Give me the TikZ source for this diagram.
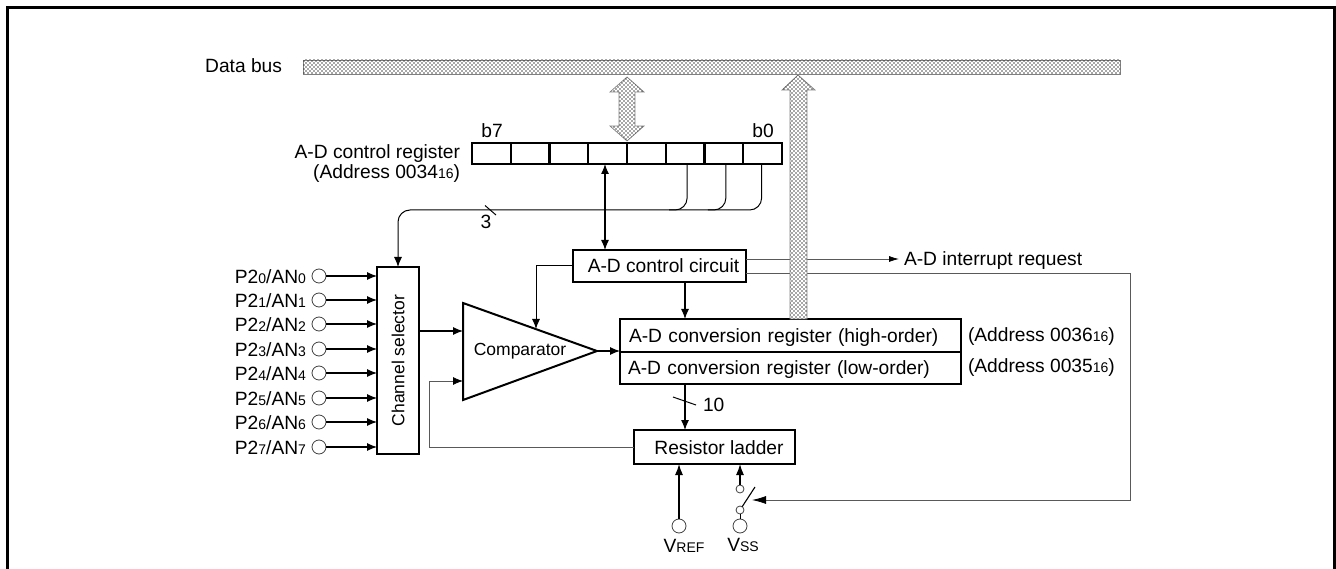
\documentclass[tikz,border=0pt]{standalone}
\usepackage{fontspec}
\setmainfont{Liberation Sans}
\usetikzlibrary{arrows.meta,patterns,calc}
\newcommand{\fs}{\fontsize{19.2}{22}\selectfont}
\newcommand{\sm}[1]{{\fontsize{14}{14}\selectfont #1}}
\pgfdeclarepatternformonly{busdots}{\pgfqpoint{-1pt}{-1pt}}{\pgfqpoint{3pt}{3pt}}{\pgfqpoint{4pt}{4pt}}{%
  \pgfpathrectangle{\pgfqpoint{-.7pt}{-.7pt}}{\pgfqpoint{1.4pt}{1.4pt}}%
  \pgfpathrectangle{\pgfqpoint{1.3pt}{1.3pt}}{\pgfqpoint{1.4pt}{1.4pt}}%
  \pgfusepath{fill}}
\tikzset{
  x=1pt,y=-1pt,
  every node/.style={font=\fs,inner sep=0pt,outer sep=0pt},
  box/.style={draw=black,line width=2.3pt,fill=white,align=center},
  wire/.style={line width=1.1pt,-{Latex[length=10pt,width=8pt]}},
  dwire/.style={line width=1.2pt,{Latex[length=10pt,width=8pt]}-{Latex[length=10pt,width=8pt]}},
  thin wire/.style={line width=.8pt,draw=black!65},
  pin/.style={circle,draw=black!75,line width=.8pt,fill=white,minimum size=14pt},
  smallpin/.style={circle,draw=black!75,line width=.8pt,fill=white,minimum size=8pt},
  shaded bus/.style={draw=black!50,line width=.7pt,fill=white,postaction={pattern=busdots,pattern color=black!80}},
}
\begin{document}
\begin{tikzpicture}
\useasboundingbox (0,0) rectangle (1336,569);
\fill[white] (0,0) rectangle (1336,569);
\draw[line width=3pt] (7.5,569) -- (7.5,7.5) -- (1334.5,7.5) -- (1334.5,569);

% data bus
\node[shaded bus,minimum width=817pt,minimum height=14pt] (bus) at (711.5,67) {};
\node[anchor=east] (buslabel) at (282,66) {Data bus};

% helper x positions
\coordinate (xa) at (605,0);
\coordinate (xb) at (627,0);
\coordinate (xc) at (798,0);
\coordinate (xd) at (398,0);
\coordinate (xf) at (429,0);
\coordinate (xg) at (1130,0);
\coordinate (xh) at (685,0);
\coordinate (xi) at (679,0);
\coordinate (xj) at (740,0);
\coordinate (ytrunk) at (0,210);

% register
\foreach \i/\n in {0/7,1/6,2/5,3/4,4/3,5/2,6/1,7/0}{
  \node[box,minimum width=38.75pt,minimum height=21pt] (bit\n) at ({472+38.75*(\i+.5)},153.5) {};
}
\node[anchor=south] (bseven) at (492,138) {b7};
\node[anchor=south] (bzero) at (763,138) {b0};
\node[anchor=east,align=right] (ctlreg) at (460,163.5) {A-D control register\\[-2.5pt](Address 0034\sm{16})};

% boxes
\node[box,minimum width=173pt,minimum height=32pt] (ctl) at (659.5,266) {\raisebox{-7pt}[0pt][0pt]{\hspace*{8pt}A-D control circuit}};
\node[box,minimum width=42pt,minimum height=187pt] (sel) at (398,360.5) {\rotatebox{90}{\fontsize{17.5}{20}\selectfont Channel selector}};
\node[box,minimum width=341pt,minimum height=33pt,text width=323pt,align=left] (high) at (790.5,335.5) {\raisebox{-6.5pt}[0pt][0pt]{A-D conversion register (high-order)}};
\node[box,minimum width=341pt,minimum height=32pt,text width=325pt,align=left] (low) at (790.5,368) {\raisebox{-6pt}[0pt][0pt]{A-D conversion register (low-order)}};
\node[box,minimum width=161pt,minimum height=34pt] (lad) at (714.5,447) {\raisebox{-7pt}[0pt][0pt]{\hspace*{9pt}Resistor ladder}};
\node[anchor=west] (addrh) at (968,337) {(Address 0036\sm{16})};
\node[anchor=west] (addrl) at (968,368) {(Address 0035\sm{16})};

% comparator
\draw[line width=2pt,line join=miter,fill=white] (463,303) coordinate (cmpa) -- (597,351) coordinate (cmpt) -- (463,400) coordinate (cmpb) -- cycle;
\node[font=\fontsize{17.5}{20}\selectfont] (cmp) at (520,351) {Comparator};
\coordinate (cmpi1) at (463,331);
\coordinate (cmpi2) at (463,381);
\coordinate (cmpc) at (536,329);

% pins
\foreach \k/\y in {0/276,1/300,2/324,3/349,4/373,5/398,6/422,7/447}{
  \node[pin] (p\k) at (319,\y) {};
  \node[anchor=east] (pl\k) at (306,\y+1) {P2\sm{\k}/AN\sm{\k}};
  \draw[wire] (p\k) -- (p\k -| sel.west);
}

% register links
\draw[dwire] (xa |- bit4.south) -- (xa |- ctl.north);
\draw[line width=1pt,rounded corners=12pt,-{Latex[length=10pt,width=8pt]}]
  ([xshift=-1pt]bit0.south) |- (xd |- ytrunk) -- (xd |- sel.north);
\draw[line width=1pt,rounded corners=12pt] ([xshift=2pt]bit1.south) |- ([xshift=-16pt]bit1.south |- ytrunk);
\draw[line width=1pt,rounded corners=12pt] ([xshift=2pt]bit2.south) |- ([xshift=-16pt]bit2.south |- ytrunk);
\coordinate (s3a) at (485,205.5);
\coordinate (s3b) at (496,215);
\draw[line width=1pt] (s3a) -- (s3b);
\node (three) at (486,222) {3};

% signal paths
\draw[wire] (sel.east |- cmpi1) -- (cmpi1);
\draw[thin wire,-{Latex[length=10pt,width=8pt,color=black]}] (lad.west) -| (xf |- cmpi2) -- (cmpi2);
\draw[line width=1pt,-{Latex[length=10pt,width=8pt]}] (ctl.west) -| (cmpc);
\draw[wire] (cmpt) -- (cmpt -| high.west);
\draw[wire] (xh |- ctl.south) -- (xh |- high.north);
\draw[wire] (xh |- low.south) -- (xh |- lad.north);
\coordinate (s10a) at (673,397);
\coordinate (s10b) at (696,405);
\draw[line width=1pt] (s10a) -- (s10b);
\node[anchor=west] (ten) at (703,405) {10};

% interrupt and switch control
\node[anchor=west] (irq) at (904,261) {A-D interrupt request};
\coordinate (swtip) at (752,500);
\draw[thin wire,-{Latex[length=10pt,width=6pt,color=black]}] (ctl.east |- 0,259) -- (899,259);
\draw[thin wire,-{Latex[length=14pt,width=8pt,color=black]}] (ctl.east |- 0,273) -| (xg |- swtip) -- (swtip);

% up arrow (drawn above the thin lines)
\begin{scope}[shift={(xc |- bus.south)}]
\draw[shaded bus,line join=miter] (0,1) -- (17,16) -- (9,16) -- (9,245) -- (-8,245) -- (-8,16) -- (-16,16) -- cycle;
\end{scope}
\begin{scope}[shift={(xb |- bus.south)}]
\draw[shaded bus,line join=miter] (0,3) -- (17,18) -- (8,18) -- (8,52) -- (17,52) -- (0,67) -- (-17,52) -- (-8,52) -- (-8,18) -- (-17,18) -- cycle;
\end{scope}

% reference and ground pins
\node[pin] (vref) at (xi |- 0,526) {};
\node[anchor=south] (vreft) at (684,552) {V\sm{REF}};
\draw[line width=1.2pt,-{Latex[length=11pt,width=8pt]}] (vref) -- (vref |- lad.south);
\node[pin] (vss) at (xj |- 0,526) {};
\node[anchor=south] (vsst) at (743,552) {V\sm{SS}};
\node[smallpin] (swt) at (xj |- 0,489) {};
\node[smallpin] (swb) at (xj |- 0,510) {};
\draw[line width=1.2pt,-{Latex[length=11pt,width=8pt]}] (swt) -- (swt |- lad.south);
\draw[line width=1pt] (swb) -- (vss);
\coordinate (bladeend) at (755,487);
\draw[line width=1.1pt] (swb) -- (bladeend);
\end{tikzpicture}
\end{document}
